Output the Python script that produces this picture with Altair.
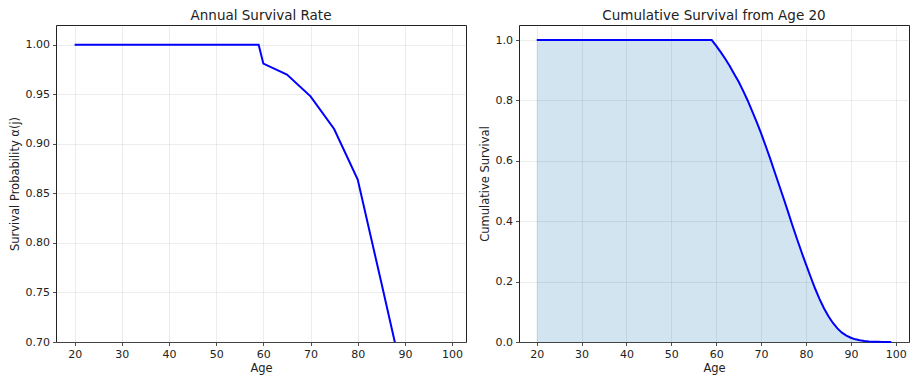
import altair as alt
import pandas as pd

# Annual survival rate
annual_age = [20, 59, 60, 65, 70, 75, 80, 85, 90, 95, 99]
annual_rate = [1.0, 1.0, 0.981, 0.970, 0.948, 0.915, 0.864, 0.760, 0.655, 0.52, 0.40]

# Cumulative survival from age 20
cum_age = [20, 59] + list(range(60, 100))
cum_surv = [1.0, 1.0,
            0.981, 0.960, 0.938, 0.914, 0.888, 0.862, 0.832, 0.800, 0.765, 0.729,
            0.691, 0.650, 0.608, 0.564, 0.520, 0.476, 0.431, 0.385, 0.341, 0.298,
            0.257, 0.217, 0.178, 0.143, 0.112, 0.085, 0.063, 0.045, 0.031, 0.021,
            0.014, 0.0088, 0.0055, 0.0033, 0.0019, 0.0010, 0.0005, 0.0002, 0.0001, 0.0]

x_ticks = [20, 30, 40, 50, 60, 70, 80, 90, 100]
left_y_ticks = [0.70, 0.75, 0.80, 0.85, 0.90, 0.95, 1.00]
right_y_ticks = [0.0, 0.2, 0.4, 0.6, 0.8, 1.0]

df_a = pd.DataFrame({"age": annual_age, "rate": annual_rate})
df_c = pd.DataFrame({"age": cum_age, "surv": cum_surv})

x_scale = alt.Scale(domain=[16.05, 102.95], nice=False, zero=False)
x_axis = alt.Axis(values=x_ticks, title="Age", format="d")

left = alt.Chart(df_a).mark_line(color="#0000ff", strokeWidth=2, clip=True).encode(
    x=alt.X("age:Q", scale=x_scale, axis=x_axis),
    y=alt.Y("rate:Q", scale=alt.Scale(domain=[0.70, 1.02], nice=False, zero=False),
            axis=alt.Axis(values=left_y_ticks, format=".2f", title="Survival Probability α(j)")),
).properties(width=410, height=317, title="Annual Survival Rate")

y_right = alt.Y("surv:Q", scale=alt.Scale(domain=[0, 1.05], nice=False),
                axis=alt.Axis(values=right_y_ticks, format=".1f", title="Cumulative Survival"))

right_area = alt.Chart(df_c).mark_area(color="#1f77b4", opacity=0.2).encode(
    x=alt.X("age:Q", scale=x_scale, axis=x_axis), y=y_right)
right_line = alt.Chart(df_c).mark_line(color="#0000ff", strokeWidth=2).encode(
    x=alt.X("age:Q", scale=x_scale, axis=x_axis), y=y_right)
right = alt.layer(right_area, right_line).properties(
    width=390, height=317, title="Cumulative Survival from Age 20")

chart = alt.hconcat(left, right, spacing=11).properties(padding=0).configure_view(
    stroke="#222", strokeWidth=1
).configure_axis(
    grid=True, gridColor="#b0b0b0", gridOpacity=0.3, gridWidth=0.8,
    domain=False, tickColor="#222", tickSize=3.5, tickWidth=0.8,
    labelFont="DejaVu Sans", labelFontSize=11, labelColor="#222", labelPadding=3,
    titleFont="DejaVu Sans", titleFontSize=11.5, titleFontWeight="normal", titleColor="#222",
    titlePadding=5
).configure_axisX(
    titlePadding=3
).configure_title(
    font="DejaVu Sans", fontSize=13.5, fontWeight="normal", color="#222", offset=3
)

chart.save("out.html", embed_options={"renderer": "svg", "actions": False})
